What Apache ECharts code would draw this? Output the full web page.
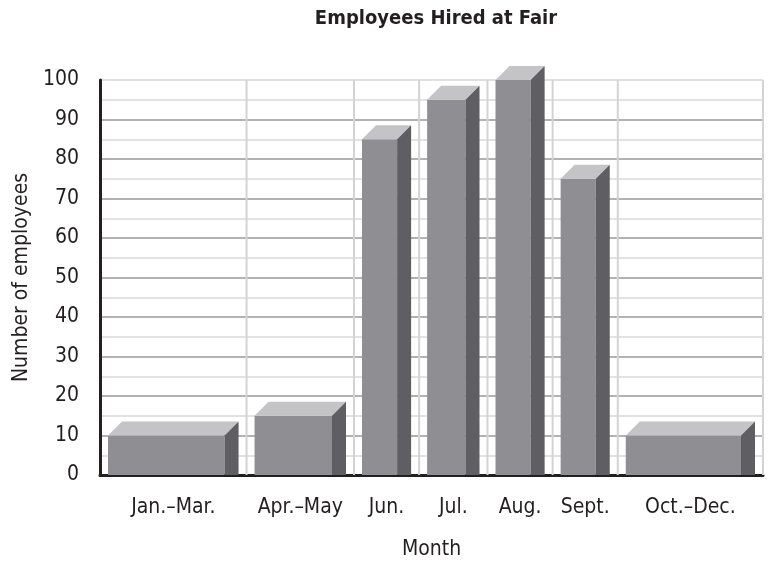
<!DOCTYPE html>
<html>
<head>
<meta charset="utf-8">
<script src="https://cdn.jsdelivr.net/npm/echarts@6/dist/echarts.min.js"></script>
<style>
  html, body { margin: 0; padding: 0; background: #fff; }
  #chart { width: 769px; height: 561px; }
</style>
</head>
<body>
<div id="chart"></div>
<script>
  // 数据
  const categories = ['Jan.–Mar.', 'Apr.–May', 'Jun.', 'Jul.', 'Aug.', 'Sept.', 'Oct.–Dec.'];
  const employees = [10, 15, 85, 95, 100, 75, 10];
  const yTicks = [0, 10, 20, 30, 40, 50, 60, 70, 80, 90, 100];

  // 每个分类所占的宽度（相对单位，原图各栏不等宽）
  const slotWidths = [2.25, 1.65, 1, 1.05, 1, 1, 2.23];

  const FONT = "'DejaVu Sans Condensed', 'Liberation Sans', sans-serif";
  const TEXT_COLOR = '#231f20';

  // 分类边界、中心
  const edges = [0];
  slotWidths.forEach(w => edges.push(edges[edges.length - 1] + w));
  const total = edges[edges.length - 1];
  const centers = slotWidths.map((w, i) => edges[i] + w / 2);
  const barData = employees.map((v, i) => [edges[i], edges[i + 1], v]);

  const PAD = 8, GAP = 8, DEPTH = 14;

  const chart = echarts.init(document.getElementById('chart'));
  chart.setOption({
    animation: false,
    title: {
      text: 'Employees Hired at Fair',
      left: 431,
      top: 4,
      textAlign: 'center',   // 标题居中于绘图区
      textStyle: { fontFamily: FONT, fontWeight: 'bold', fontSize: 20, color: TEXT_COLOR }
    },
    grid: { left: 100, right: 6, top: 80, bottom: 86, outerBoundsMode: 'none' },
    xAxis: {
      type: 'value',
      min: 0,
      max: total,
      name: 'Month',
      nameLocation: 'middle',
      nameGap: 64,
      nameTextStyle: { fontFamily: FONT, fontSize: 21, color: TEXT_COLOR },
      axisLine: { show: true, lineStyle: { color: TEXT_COLOR, width: 3 } },
      axisTick: { show: false },
      splitLine: { show: false },
      axisLabel: {
        customValues: centers,
        margin: 22,
        fontFamily: FONT,
        fontSize: 21,
        color: TEXT_COLOR,
        formatter: function (v) {
          let best = 0;
          centers.forEach((c, i) => { if (Math.abs(c - v) < Math.abs(centers[best] - v)) best = i; });
          return categories[best];
        }
      }
    },
    yAxis: {
      type: 'value',
      min: yTicks[0],
      max: yTicks[yTicks.length - 1],
      interval: 10,
      name: 'Number of employees',
      nameLocation: 'middle',
      nameGap: 67,
      nameTextStyle: { fontFamily: FONT, fontSize: 21, color: TEXT_COLOR },
      axisLine: { show: true, lineStyle: { color: TEXT_COLOR, width: 3 } },
      axisTick: { show: false },
      axisLabel: { margin: 21, fontFamily: FONT, fontSize: 21, color: TEXT_COLOR },
      splitLine: {
        show: true,
        lineStyle: {
          width: 1.5,
          color: ['#999999', '#999999', '#999999', '#999999', '#999999', '#999999',
                  '#999999', '#999999', '#999999', '#999999', '#d6d6d6']
        }
      },
      minorTick: { show: false, splitNumber: 2 },
      minorSplitLine: { show: true, lineStyle: { color: '#d9d9d9', width: 1.5 } }
    },
    series: [
      {
        // 竖向网格线（分类边界）
        type: 'custom',
        z: 1,
        silent: true,
        data: edges.slice(1),
        encode: { x: 0 },
        renderItem: function (params, api) {
          const b = api.coord([api.value(0), 0]);
          const t = api.coord([api.value(0), 100]);
          return {
            type: 'line',
            shape: { x1: b[0], y1: b[1], x2: t[0], y2: t[1] },
            style: { stroke: '#d3d3d3', lineWidth: 2 }
          };
        }
      },
      {
        // 立体柱
        type: 'custom',
        z: 2,
        data: barData,
        encode: { x: [0, 1], y: 2 },
        renderItem: function (params, api) {
          const p0 = api.coord([api.value(0), 0]);
          const p1 = api.coord([api.value(1), api.value(2)]);
          const y0 = p0[1], yt = p1[1];
          const fl = p0[0] + PAD;
          const fr = p1[0] - GAP - DEPTH;
          return {
            type: 'group',
            children: [
              {
                type: 'rect',
                shape: { x: fl, y: yt, width: fr - fl, height: y0 - yt },
                style: { fill: '#8f8e93' }
              },
              {
                type: 'polygon',
                shape: { points: [[fl, yt], [fr, yt], [fr + DEPTH, yt - DEPTH], [fl + DEPTH, yt - DEPTH]] },
                style: { fill: '#c4c4c6' }
              },
              {
                type: 'polygon',
                shape: { points: [[fr, yt], [fr + DEPTH, yt - DEPTH], [fr + DEPTH, y0], [fr, y0]] },
                style: { fill: '#5f5e63' }
              }
            ]
          };
        }
      }
    ]
  });
</script>
</body>
</html>
